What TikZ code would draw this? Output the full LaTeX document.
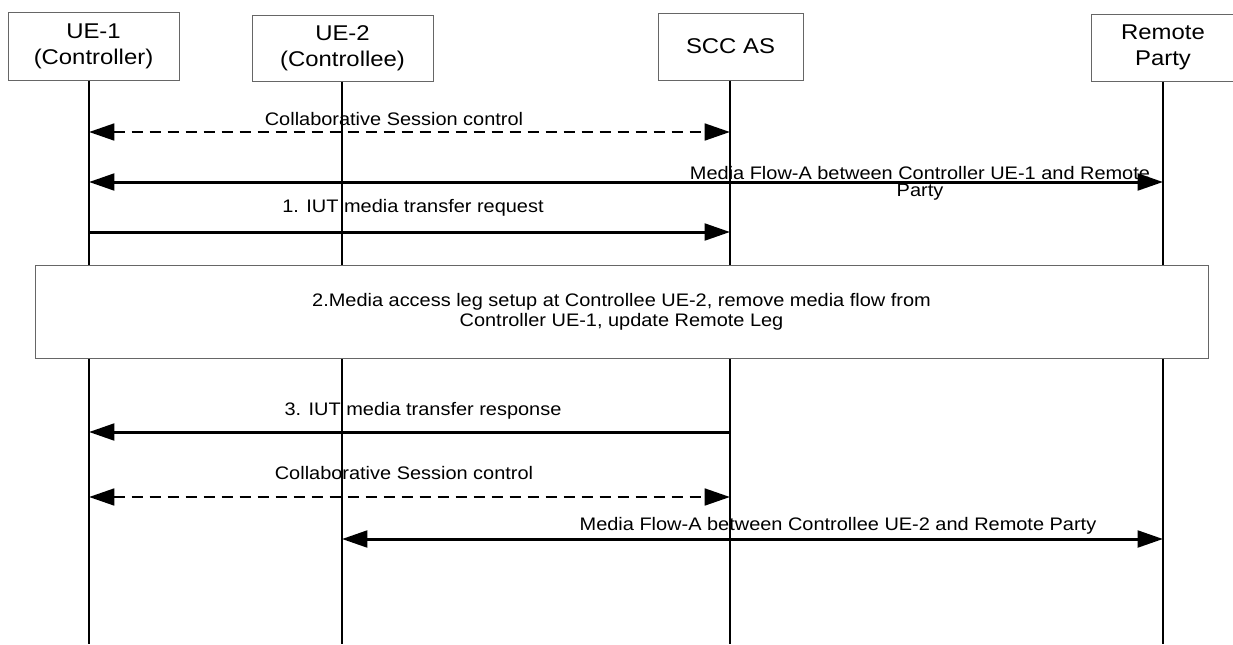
\documentclass[tikz,border=0pt]{standalone}
\usepackage{fontspec}
\newfontfamily\hdrfont[FakeStretch=1.12]{Liberation Sans}
\newfontfamily\msgfont[FakeStretch=1.1]{Liberation Sans}
\usetikzlibrary{arrows.meta}

\begin{document}
\begin{tikzpicture}[x=0.75pt,y=-0.75pt,
  >={Triangle[length=19pt,width=12.5pt]},
  entity/.style={draw=black!60,fill=white,line width=0.75pt,rectangle,align=center,inner sep=0pt,font=\hdrfont\fontsize{16}{19.5}\selectfont},
  procbox/.style={draw=black!60,fill=white,line width=0.75pt,rectangle,align=center,inner sep=0pt,font=\msgfont\fontsize{13.6}{15}\selectfont},
  lifeline/.style={line width=1.1pt},
  msg/.style={line width=2.25pt},
  ctrl/.style={line width=2.1pt,dash pattern=on 8.25pt off 5.25pt},
  msglabel/.style={inner sep=0pt,anchor=base,align=center,font=\msgfont\fontsize{13.6}{13}\selectfont}]
  \useasboundingbox (0,0) rectangle (1233,644);

  \node[entity,minimum width=128.25pt,minimum height=51pt] (ue1) at (93.5,46) {UE-1\\(Controller)};
  \node[entity,minimum width=135.75pt,minimum height=49.5pt] (ue2) at (342.5,48) {UE-2\\(Controllee)};
  \node[entity,minimum width=108.75pt,minimum height=50.25pt] (scc) at (730.5,46.5) {SCC AS};
  \node[entity,minimum width=108pt,minimum height=50.25pt] (rem) at (1163,47.5) {Remote\\Party};

  \coordinate (ue1end) at (89,644);
  \coordinate (ue2end) at (342,644);
  \coordinate (sccend) at (730,644);
  \coordinate (remend) at (1163,644);
  \foreach \ent in {ue1,ue2,scc,rem}
    \draw[lifeline] (\ent.south -| \ent end) -- (\ent end);

  % step 2 hides the lifelines behind it
  \node[procbox,minimum width=879.75pt,minimum height=69.75pt] (setup) at (621.5,311.5)
    {2.Media access leg setup at Controllee UE-2, remove media flow from\\Controller UE-1, update Remote Leg};

  \coordinate (row1) at (0,132);
  \coordinate (row2) at (0,182);
  \coordinate (row3) at (0,232);
  \coordinate (row4) at (0,432);
  \coordinate (row5) at (0,497);
  \coordinate (row6) at (0,539);

  \draw[ctrl,<->] (ue1end |- row1) -- (sccend |- row1);
  \draw[msg,<->] (ue1end |- row2) -- (remend |- row2);
  \draw[msg,->] (ue1end |- row3) -- (sccend |- row3);
  \draw[msg,->] (sccend |- row4) -- (ue1end |- row4);
  \draw[ctrl,<->] (ue1end |- row5) -- (sccend |- row5);
  \draw[msg,<->] (ue2end |- row6) -- (remend |- row6);

  \node[msglabel] (ctrlone) at (394,125) {Collaborative Session control};
  \node[msglabel] (flowone) at (920,196.5) {Media Flow-A between Controller UE-1 and Remote\\Party};
  \node[msglabel] (request) at (413,212) {1. IUT media transfer request};
  \node[msglabel] (response) at (423,415) {3. IUT media transfer response};
  \node[msglabel] (ctrltwo) at (404,479) {Collaborative Session control};
  \node[msglabel] (flowtwo) at (838,530) {Media Flow-A between Controllee UE-2 and Remote Party};
\end{tikzpicture}
\end{document}
